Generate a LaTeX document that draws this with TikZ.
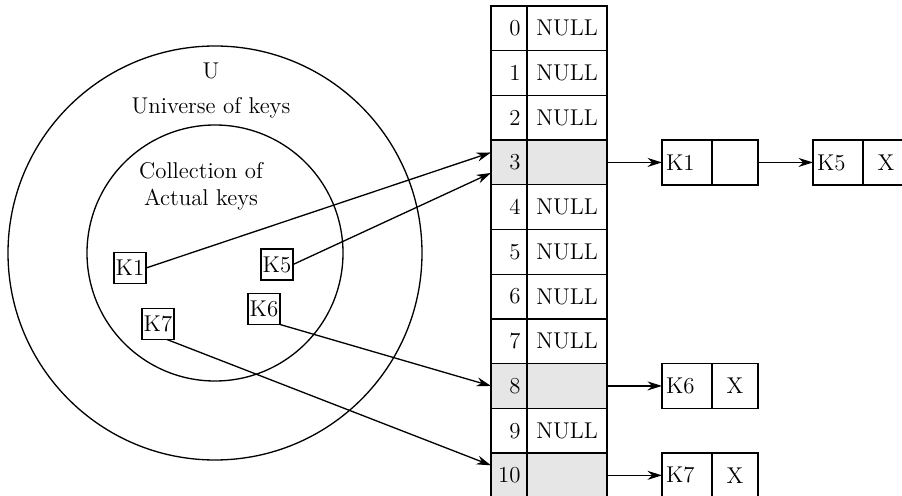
\documentclass[tikz,border=0pt]{standalone}
\usepackage{tikz}
\usetikzlibrary{arrows.meta,positioning}
\definecolor{SoftGray}{HTML}{E6E6E6}

\begin{document}
\begin{tikzpicture}[
  font=\fontsize{13}{15.5}\selectfont,
  every node/.style={outer sep=0pt},
  line width=0.75pt,
  idx/.style={draw,minimum height=0.894cm,text width=0.46cm,inner xsep=0.13cm,align=right},
  val/.style={draw,minimum width=1.6cm,minimum height=0.894cm,inner sep=0pt,align=center},
  used/.style={fill=SoftGray},
  keybox/.style={draw,minimum width=0.64cm,minimum height=0.62cm,inner sep=1pt},
  lkey/.style={draw,text width=0.84cm,inner xsep=0.08cm,minimum height=0.9cm,align=left},
  lptr/.style={draw,minimum width=0.92cm,minimum height=0.9cm,inner sep=0pt,align=center},
  arrow/.style={-{Stealth[length=2.9mm,width=1.8mm]}}
]
\useasboundingbox (0,0) rectangle (18.04,9.9);

% universe and actual keys
\node[draw,circle,minimum size=8.28cm,inner sep=0pt] (univ) at (4.30,4.84) {};
\node[draw,circle,minimum size=5.12cm,inner sep=0pt] (actual) at (4.30,4.84) {};
\node[align=center] (ulabel) at (4.22,8.09) {U\\[0.14cm]Universe of keys};
\node[align=center] (alabel) at (4.02,6.18) {Collection of\\Actual keys};

\node[keybox] (k1) at (2.60,4.54) {K1};
\node[keybox] (k5) at (5.54,4.61) {K5};
\node[keybox] (k6) at (5.28,3.72) {K6};
\node[keybox] (k7) at (3.16,3.42) {K7};

% hash table
\node[idx] (c0) at (10.18,9.333) {0};
\node[val,right=0pt of c0] (v0) {NULL};
\node[idx,below=0pt of c0] (c1) {1};
\node[val,right=0pt of c1] (v1) {NULL};
\node[idx,below=0pt of c1] (c2) {2};
\node[val,right=0pt of c2] (v2) {NULL};
\node[idx,used,below=0pt of c2] (c3) {3};
\node[val,used,right=0pt of c3] (v3) {};
\node[idx,below=0pt of c3] (c4) {4};
\node[val,right=0pt of c4] (v4) {NULL};
\node[idx,below=0pt of c4] (c5) {5};
\node[val,right=0pt of c5] (v5) {NULL};
\node[idx,below=0pt of c5] (c6) {6};
\node[val,right=0pt of c6] (v6) {NULL};
\node[idx,below=0pt of c6] (c7) {7};
\node[val,right=0pt of c7] (v7) {NULL};
\node[idx,used,below=0pt of c7] (c8) {8};
\node[val,used,right=0pt of c8] (v8) {};
\node[idx,below=0pt of c8] (c9) {9};
\node[val,right=0pt of c9] (v9) {NULL};
\node[idx,used,below=0pt of c9] (c10) {10};
\node[val,used,right=0pt of c10] (v10) {};

% chains
\node[lkey,right=1.1cm of v3] (l1k) {K1};
\node[lptr,right=0pt of l1k] (l1p) {};
\node[lkey,right=1.1cm of l1p] (l5k) {K5};
\node[lptr,right=0pt of l5k] (l5p) {X};
\node[lkey,right=1.1cm of v8] (l6k) {K6};
\node[lptr,right=0pt of l6k] (l6p) {X};
\node[lkey,right=1.1cm of v10] (l7k) {K7};
\node[lptr,right=0pt of l7k] (l7p) {X};

\draw[arrow] (k1.east) -- ([yshift=0.2cm]c3.west);
\draw[arrow] (k5.east) -- ([yshift=-0.21cm]c3.west);
\draw[arrow] (k6.south east) -- (c8.west);
\draw[arrow] (k7.-60) -- ([yshift=0.2cm]c10.west);
\draw[arrow] (v3) -- (l1k);
\draw[arrow] (l1p) -- (l5k);
\draw[arrow] (v8) -- (l6k);
\draw[arrow] (v10) -- (l7k);
\end{tikzpicture}
\end{document}
